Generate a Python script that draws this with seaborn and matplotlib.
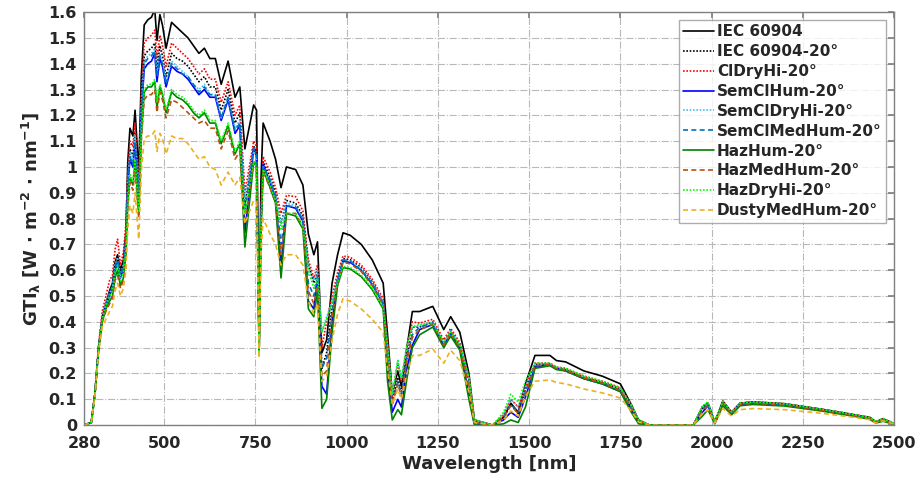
import matplotlib
matplotlib.use("Agg")
import matplotlib.pyplot as plt
import seaborn as sns

# wavelength grid [nm]
wavelength = [280, 300, 310, 320, 330, 340, 350, 358, 365, 372, 380, 388, 395, 400, 406, 414, 420, 430, 437, 445,
              455, 465, 474, 480, 488, 495, 505, 520, 535, 550, 565, 580, 595, 610, 625, 640, 656, 675, 694, 707,
              721, 745, 753, 760, 765, 771, 790, 805, 820, 835, 860, 880, 895, 910, 920, 932, 945, 960, 975, 990,
              1010, 1040, 1070, 1100, 1112, 1125, 1140, 1150, 1165, 1180, 1200, 1236, 1266, 1285, 1310, 1335, 1350,
              1400, 1430, 1450, 1470, 1490, 1516, 1557, 1575, 1600, 1650, 1700, 1750, 1780, 1800, 1830, 1950, 1975,
              1990, 2009, 2031, 2055, 2078, 2113, 2200, 2300, 2352, 2400, 2434, 2450, 2470, 2500]

iec60904 = [0.00, 0.01, 0.12, 0.30, 0.42, 0.47, 0.52, 0.55, 0.63, 0.66, 0.60, 0.64, 0.75, 1.02, 1.15, 1.12, 1.22, 0.98, 1.35, 1.55,
            1.57, 1.58, 1.61, 1.49, 1.59, 1.55, 1.46, 1.56, 1.54, 1.52, 1.50, 1.47, 1.44, 1.46, 1.42, 1.42, 1.32, 1.41, 1.27, 1.31,
            1.07, 1.24, 1.22, 0.35, 0.95, 1.17, 1.10, 1.03, 0.92, 1.00, 0.99, 0.93, 0.74, 0.66, 0.71, 0.28, 0.33, 0.55, 0.66, 0.745,
            0.735, 0.70, 0.64, 0.55, 0.35, 0.12, 0.21, 0.15, 0.30, 0.44, 0.44, 0.46, 0.37, 0.42, 0.36, 0.20, 0.02,
            0.00, 0.03, 0.085, 0.05, 0.16, 0.27, 0.27, 0.25, 0.245, 0.21, 0.19, 0.16, 0.08, 0.02, 0.00, 0.00, 0.07,
            0.085, 0.01, 0.093, 0.05, 0.085, 0.09, 0.083, 0.062, 0.05, 0.038, 0.03, 0.012, 0.025, 0.005]

iec60904_20 = [0.00, 0.01, 0.12, 0.30, 0.42, 0.47, 0.51, 0.54, 0.61, 0.64, 0.58, 0.62, 0.73, 0.95, 1.07, 1.04, 1.13, 0.91, 1.25, 1.43,
               1.45, 1.46, 1.48, 1.38, 1.47, 1.43, 1.35, 1.44, 1.42, 1.41, 1.39, 1.36, 1.33, 1.35, 1.31, 1.31, 1.22, 1.30, 1.17, 1.21,
               0.85, 1.08, 1.06, 0.30, 0.80, 1.02, 0.96, 0.90, 0.78, 0.87, 0.86, 0.81, 0.62, 0.55, 0.60, 0.22, 0.28, 0.46, 0.57, 0.645,
               0.64, 0.61, 0.555, 0.475, 0.30, 0.10, 0.18, 0.13, 0.26, 0.38, 0.38, 0.40, 0.32, 0.365, 0.31, 0.17, 0.015,
               0.00, 0.03, 0.08, 0.045, 0.14, 0.235, 0.235, 0.22, 0.215, 0.185, 0.165, 0.14, 0.07, 0.015, 0.00, 0.00, 0.065,
               0.08, 0.01, 0.09, 0.048, 0.082, 0.087, 0.08, 0.06, 0.048, 0.036, 0.028, 0.012, 0.024, 0.005]

cldryhi = [0.00, 0.01, 0.13, 0.31, 0.44, 0.50, 0.56, 0.58, 0.68, 0.72, 0.62, 0.67, 0.78, 0.98, 1.10, 1.08, 1.17, 0.93, 1.29, 1.48,
           1.50, 1.51, 1.53, 1.42, 1.51, 1.47, 1.39, 1.48, 1.46, 1.44, 1.42, 1.39, 1.36, 1.38, 1.34, 1.34, 1.25, 1.33, 1.20, 1.24,
           0.90, 1.10, 1.08, 0.31, 0.82, 1.04, 0.98, 0.92, 0.82, 0.89, 0.885, 0.83, 0.64, 0.57, 0.62, 0.30, 0.40, 0.50, 0.59, 0.655,
           0.65, 0.62, 0.565, 0.49, 0.32, 0.11, 0.24, 0.17, 0.30, 0.40, 0.395, 0.41, 0.33, 0.375, 0.32, 0.18, 0.02,
           0.00, 0.04, 0.10, 0.07, 0.15, 0.24, 0.24, 0.225, 0.22, 0.19, 0.17, 0.145, 0.075, 0.02, 0.00, 0.00, 0.07,
           0.085, 0.015, 0.093, 0.05, 0.085, 0.09, 0.083, 0.062, 0.05, 0.038, 0.03, 0.013, 0.025, 0.006]

semclhum = [0.00, 0.01, 0.12, 0.30, 0.41, 0.46, 0.50, 0.53, 0.60, 0.63, 0.57, 0.60, 0.70, 0.92, 1.03, 1.00, 1.09, 0.87, 1.20, 1.38,
            1.40, 1.41, 1.44, 1.33, 1.42, 1.39, 1.31, 1.39, 1.37, 1.36, 1.34, 1.31, 1.28, 1.30, 1.27, 1.27, 1.18, 1.26, 1.13, 1.16,
            0.745, 1.07, 1.04, 0.29, 0.78, 1.01, 0.94, 0.88, 0.62, 0.85, 0.84, 0.79, 0.48, 0.45, 0.56, 0.15, 0.12, 0.40, 0.56, 0.635,
            0.63, 0.60, 0.545, 0.47, 0.22, 0.05, 0.10, 0.07, 0.22, 0.31, 0.37, 0.39, 0.31, 0.355, 0.30, 0.12, 0.005,
            0.00, 0.02, 0.05, 0.03, 0.11, 0.225, 0.235, 0.22, 0.21, 0.18, 0.16, 0.13, 0.06, 0.01, 0.00, 0.00, 0.05,
            0.075, 0.008, 0.085, 0.045, 0.08, 0.085, 0.078, 0.058, 0.046, 0.034, 0.026, 0.01, 0.02, 0.004]

semcldryhi = [0.00, 0.01, 0.12, 0.30, 0.42, 0.47, 0.51, 0.54, 0.62, 0.65, 0.58, 0.62, 0.72, 0.94, 1.06, 1.03, 1.12, 0.90, 1.23, 1.41,
              1.43, 1.44, 1.46, 1.36, 1.44, 1.41, 1.33, 1.41, 1.39, 1.37, 1.35, 1.32, 1.30, 1.32, 1.28, 1.28, 1.19, 1.27, 1.15, 1.18,
              0.88, 1.06, 1.04, 0.30, 0.80, 1.00, 0.95, 0.89, 0.78, 0.86, 0.85, 0.80, 0.62, 0.56, 0.60, 0.36, 0.42, 0.48, 0.57, 0.64,
              0.635, 0.605, 0.55, 0.475, 0.31, 0.12, 0.25, 0.18, 0.30, 0.38, 0.385, 0.40, 0.32, 0.365, 0.31, 0.18, 0.02,
              0.00, 0.04, 0.10, 0.07, 0.15, 0.235, 0.235, 0.22, 0.215, 0.185, 0.165, 0.14, 0.075, 0.02, 0.00, 0.00, 0.07,
              0.085, 0.015, 0.092, 0.05, 0.084, 0.089, 0.082, 0.061, 0.049, 0.037, 0.029, 0.013, 0.025, 0.006]

semclmedhum = [0.00, 0.01, 0.12, 0.30, 0.41, 0.46, 0.51, 0.53, 0.61, 0.64, 0.58, 0.61, 0.71, 0.93, 1.04, 1.01, 1.10, 0.88, 1.22, 1.40,
               1.42, 1.43, 1.45, 1.35, 1.43, 1.40, 1.32, 1.40, 1.38, 1.36, 1.35, 1.32, 1.29, 1.31, 1.28, 1.28, 1.19, 1.27, 1.14, 1.17,
               0.82, 1.07, 1.05, 0.29, 0.79, 1.00, 0.95, 0.89, 0.70, 0.85, 0.845, 0.795, 0.55, 0.50, 0.58, 0.22, 0.26, 0.44, 0.56, 0.64,
               0.635, 0.60, 0.55, 0.47, 0.27, 0.08, 0.17, 0.12, 0.26, 0.35, 0.38, 0.395, 0.315, 0.36, 0.305, 0.15, 0.01,
               0.00, 0.03, 0.08, 0.05, 0.13, 0.23, 0.235, 0.22, 0.213, 0.183, 0.163, 0.135, 0.068, 0.015, 0.00, 0.00, 0.06,
               0.08, 0.012, 0.088, 0.048, 0.082, 0.087, 0.08, 0.06, 0.047, 0.035, 0.027, 0.011, 0.022, 0.005]

hazhum = [0.00, 0.01, 0.12, 0.29, 0.40, 0.45, 0.48, 0.50, 0.57, 0.60, 0.54, 0.57, 0.66, 0.86, 0.96, 0.93, 1.02, 0.82, 1.12, 1.29,
          1.31, 1.31, 1.33, 1.23, 1.31, 1.28, 1.21, 1.29, 1.27, 1.26, 1.24, 1.21, 1.19, 1.21, 1.17, 1.17, 1.09, 1.16, 1.05, 1.09,
          0.69, 1.02, 1.00, 0.28, 0.74, 0.99, 0.92, 0.86, 0.57, 0.82, 0.81, 0.76, 0.45, 0.42, 0.52, 0.065, 0.10, 0.36, 0.54, 0.61,
          0.605, 0.575, 0.525, 0.45, 0.17, 0.02, 0.06, 0.04, 0.18, 0.30, 0.35, 0.38, 0.30, 0.345, 0.29, 0.10, 0.00,
          0.00, 0.005, 0.02, 0.01, 0.07, 0.22, 0.23, 0.215, 0.21, 0.18, 0.16, 0.13, 0.05, 0.005, 0.00, 0.00, 0.035,
          0.06, 0.005, 0.075, 0.04, 0.075, 0.08, 0.074, 0.055, 0.043, 0.032, 0.022, 0.008, 0.015, 0.003]

hazmedhum = [0.00, 0.01, 0.12, 0.29, 0.40, 0.44, 0.47, 0.49, 0.56, 0.58, 0.53, 0.56, 0.65, 0.84, 0.94, 0.91, 0.99, 0.80, 1.10, 1.26,
             1.28, 1.28, 1.30, 1.21, 1.29, 1.26, 1.19, 1.26, 1.25, 1.23, 1.21, 1.19, 1.17, 1.18, 1.15, 1.15, 1.07, 1.14, 1.03, 1.06,
             0.78, 1.02, 1.00, 0.28, 0.76, 0.98, 0.92, 0.86, 0.66, 0.82, 0.82, 0.77, 0.52, 0.47, 0.54, 0.19, 0.21, 0.42, 0.55, 0.63,
             0.625, 0.595, 0.54, 0.465, 0.26, 0.08, 0.16, 0.11, 0.25, 0.34, 0.37, 0.39, 0.31, 0.355, 0.30, 0.15, 0.01,
             0.00, 0.03, 0.075, 0.045, 0.12, 0.23, 0.235, 0.22, 0.213, 0.183, 0.163, 0.135, 0.068, 0.015, 0.00, 0.00, 0.055,
             0.075, 0.01, 0.085, 0.046, 0.08, 0.085, 0.078, 0.058, 0.046, 0.034, 0.026, 0.01, 0.02, 0.004]

hazdryhi = [0.00, 0.01, 0.12, 0.30, 0.41, 0.46, 0.50, 0.52, 0.59, 0.62, 0.56, 0.59, 0.68, 0.86, 0.97, 0.94, 1.03, 0.83, 1.13, 1.30,
            1.32, 1.32, 1.34, 1.25, 1.32, 1.29, 1.22, 1.30, 1.28, 1.27, 1.25, 1.22, 1.20, 1.22, 1.18, 1.18, 1.10, 1.17, 1.06, 1.10,
            0.82, 1.02, 1.00, 0.28, 0.75, 0.99, 0.93, 0.87, 0.76, 0.82, 0.82, 0.77, 0.60, 0.53, 0.57, 0.36, 0.41, 0.47, 0.55, 0.615,
            0.61, 0.58, 0.53, 0.455, 0.30, 0.12, 0.25, 0.18, 0.31, 0.38, 0.39, 0.395, 0.32, 0.36, 0.31, 0.19, 0.02,
            0.00, 0.05, 0.12, 0.09, 0.17, 0.24, 0.24, 0.225, 0.22, 0.19, 0.17, 0.145, 0.08, 0.02, 0.00, 0.00, 0.075,
            0.09, 0.015, 0.092, 0.05, 0.085, 0.09, 0.083, 0.062, 0.05, 0.038, 0.03, 0.014, 0.026, 0.007]

dustymedhum = [0.00, 0.01, 0.11, 0.28, 0.38, 0.41, 0.44, 0.46, 0.52, 0.55, 0.50, 0.53, 0.60, 0.76, 0.85, 0.82, 0.90, 0.72, 0.98, 1.11,
               1.12, 1.12, 1.14, 1.06, 1.13, 1.11, 1.05, 1.12, 1.11, 1.11, 1.09, 1.06, 1.03, 1.04, 1.00, 0.99, 0.93, 0.98, 0.93, 0.96,
               0.78, 0.87, 0.86, 0.26, 0.66, 0.80, 0.74, 0.70, 0.62, 0.66, 0.66, 0.62, 0.48, 0.43, 0.47, 0.17, 0.19, 0.33, 0.43, 0.49,
               0.48, 0.45, 0.41, 0.36, 0.22, 0.08, 0.14, 0.10, 0.20, 0.27, 0.27, 0.295, 0.24, 0.29, 0.25, 0.13, 0.01,
               0.00, 0.02, 0.055, 0.035, 0.11, 0.17, 0.175, 0.165, 0.16, 0.14, 0.125, 0.105, 0.055, 0.012, 0.00, 0.00, 0.045,
               0.06, 0.008, 0.065, 0.035, 0.06, 0.064, 0.06, 0.046, 0.037, 0.028, 0.021, 0.008, 0.017, 0.004]

series = [
    ("IEC 60904", iec60904, "black", "-"),
    ("IEC 60904-20°", iec60904_20, "black", (0, (1, 1))),
    ("ClDryHi-20°", cldryhi, "#ff0000", (0, (1, 1))),
    ("SemClHum-20°", semclhum, "#0000ff", "-"),
    ("SemClDryHi-20°", semcldryhi, "#4dbeee", (0, (1, 1))),
    ("SemClMedHum-20°", semclmedhum, "#0072bd", (0, (3, 2))),
    ("HazHum-20°", hazhum, "#008000", "-"),
    ("HazMedHum-20°", hazmedhum, "#b5520f", (0, (3, 2))),
    ("HazDryHi-20°", hazdryhi, "#00ff00", (0, (1, 1))),
    ("DustyMedHum-20°", dustymedhum, "#edb120", (0, (3, 2))),
]

sns.set_theme(style="white")
plt.rcParams["font.family"] = ["DejaVu Sans"]
plt.rcParams["font.weight"] = "bold"
plt.rcParams["mathtext.fontset"] = "dejavusans"

fig = plt.figure(figsize=(9.22, 4.82), dpi=100)
ax = fig.add_axes([0.0911, 0.118, 0.8785, 0.857])

for name, vals, col, ls in series:
    sns.lineplot(x=wavelength, y=vals, ax=ax, color=col, linestyle=ls, linewidth=1.2, label=name)

ax.set_xlim(280, 2500)
ax.set_ylim(0, 1.6)
ax.set_xticks([280, 500, 750, 1000, 1250, 1500, 1750, 2000, 2250, 2500])
yt = [i / 10 for i in range(17)]
ax.set_yticks(yt)
ax.set_yticklabels(["0" if v == 0 else ("1" if v == 1 else f"{v:g}") for v in yt])
ax.grid(True, linestyle="-.", color="#b8b8b8", linewidth=0.8)
for s in ax.spines.values():
    s.set_color("#808080")
    s.set_linewidth(1.0)
ax.tick_params(direction="in", length=4, top=True, right=True, color="#808080",
               labelsize=11.5, labelcolor="#262626")
ax.tick_params(axis="x", pad=8)
ax.tick_params(axis="y", pad=5)
for lab in ax.get_xticklabels() + ax.get_yticklabels():
    lab.set_fontweight("bold")

ax.set_xlabel("Wavelength [nm]", fontsize=13, fontweight="bold", color="#262626", labelpad=3)
ax.set_ylabel(r"GTI$_\mathbf{\lambda}$ [W $\mathbf{\cdot}$ m$^\mathbf{-2}$ $\mathbf{\cdot}$ nm$^\mathbf{-1}$]",
              fontsize=13, fontweight="bold", color="#262626", labelpad=4)

leg = ax.legend(loc="upper right", fontsize=11, frameon=True, fancybox=False, handlelength=2.0,
                handletextpad=0.2, borderpad=0.3, labelspacing=0.32, borderaxespad=0.5)
leg.get_frame().set_edgecolor("#999999")
leg.get_frame().set_linewidth(1.0)
for t in leg.get_texts():
    t.set_fontweight("bold")

fig.savefig("out.png", dpi=100)
